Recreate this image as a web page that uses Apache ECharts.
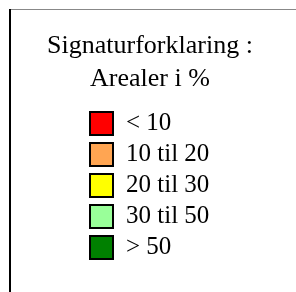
<!DOCTYPE html>
<html>
<head>
<meta charset="utf-8">
<script src="https://cdn.jsdelivr.net/npm/echarts@6/dist/echarts.min.js"></script>
<style>
  html, body { margin: 0; padding: 0; background: #fff; }
  #chart { width: 296px; height: 292px; }
</style>
</head>
<body>
<div id="chart"></div>
<script>
// legend classes (area share, %)
const classNames = ['< 10', '10 til 20', '20 til 30', '30 til 50', '> 50'];
const classColors = ['#ff0000', '#ffa552', '#ffff00', '#99ff99', '#008000'];
const titleLines = ['Signaturforklaring :', 'Arealer i %'];

const chart = echarts.init(document.getElementById('chart'));

const serif = '"Liberation Serif", "DejaVu Serif", serif';

const option = {
  animation: false,
  backgroundColor: '#fff',
  title: {
    text: titleLines.join('\n'),
    left: 145,
    top: 25,
    textAlign: 'center',
    textStyle: {
      fontFamily: serif,
      fontSize: 26,
      fontWeight: 'normal',
      color: '#000',
      lineHeight: 33
    }
  },
  grid: { left: 0, right: 0, top: 0, bottom: 0, show: false },
  xAxis: { type: 'category', show: false, data: [] },
  yAxis: { type: 'value', show: false },
  legend: {
    orient: 'vertical',
    left: 84,
    top: 104,
    itemWidth: 23,
    itemHeight: 23,
    itemGap: 2,
    icon: 'rect',
    selectedMode: false,
    itemStyle: { borderColor: '#000', borderWidth: 2 },
    textStyle: {
      fontFamily: serif,
      fontSize: 25,
      color: '#000',
      lineHeight: 23,
      padding: [6, 0, 0, 8]
    },
    data: classNames
  },
  series: classNames.map((name, i) => ({
    name,
    type: 'bar',
    data: [],
    itemStyle: { color: classColors[i] }
  })),
  graphic: [
    { type: 'line', shape: { x1: 11, y1: 9.5, x2: 296, y2: 9.5 }, style: { stroke: '#888', lineWidth: 1 } },
    { type: 'line', shape: { x1: 10, y1: 9, x2: 10, y2: 292 }, style: { stroke: '#000', lineWidth: 2 } }
  ]
};

chart.setOption(option);
</script>
</body>
</html>
